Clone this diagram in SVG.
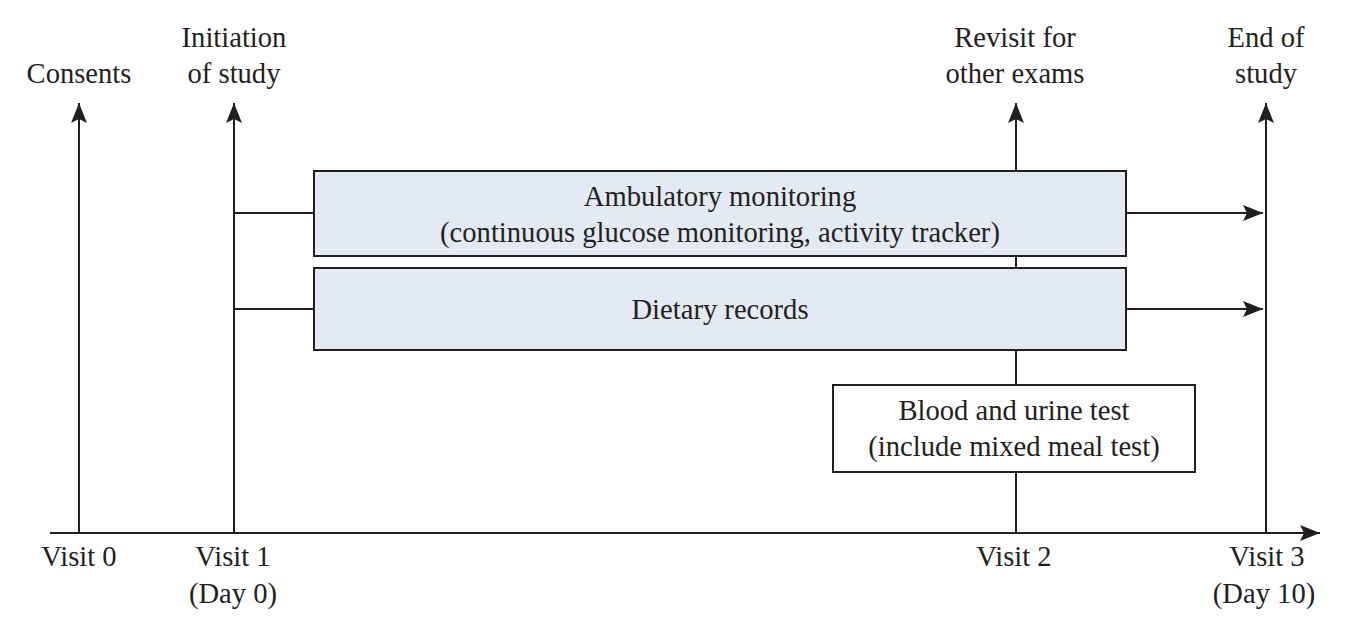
<svg xmlns="http://www.w3.org/2000/svg" width="1347" height="636" viewBox="0 0 1347 636">
<style>
text{font-family:"Liberation Serif","Times New Roman",serif;font-size:28.6px;fill:#231f20;text-anchor:middle}
.ln{stroke:#231f20;stroke-width:2;fill:none}
.bx{stroke:#231f20;stroke-width:2}
.blue{fill:#e3eaf3}
.white{fill:#ffffff}
</style>
<defs>
<marker id="ah" viewBox="0 0 20 16" refX="20" refY="8" markerWidth="20" markerHeight="16" markerUnits="userSpaceOnUse" orient="auto">
<path d="M0,0 L20,8 L0,16 L4,8 Z" fill="#231f20"/>
</marker>
</defs>
<g id="connectors">
<line class="ln" x1="50" y1="533" x2="1320" y2="533" marker-end="url(#ah)"/>
<line class="ln" x1="79" y1="533" x2="79" y2="103" marker-end="url(#ah)"/>
<line class="ln" x1="234" y1="533" x2="234" y2="103" marker-end="url(#ah)"/>
<line class="ln" x1="1016" y1="533" x2="1016" y2="103" marker-end="url(#ah)"/>
<line class="ln" x1="1266" y1="533" x2="1266" y2="103" marker-end="url(#ah)"/>
<line class="ln" x1="234" y1="213" x2="314" y2="213"/>
<line class="ln" x1="1126" y1="213" x2="1263" y2="213" marker-end="url(#ah)"/>
<line class="ln" x1="234" y1="309" x2="314" y2="309"/>
<line class="ln" x1="1126" y1="309" x2="1263" y2="309" marker-end="url(#ah)"/>
</g>
<g id="ambulatory">
<rect class="bx blue" x="314" y="171" width="812" height="85"/>
<text x="720" y="206">Ambulatory monitoring</text>
<text x="720" y="242">(continuous glucose monitoring, activity tracker)</text>
</g>
<g id="dietary">
<rect class="bx blue" x="314" y="268" width="812" height="82"/>
<text x="720" y="319">Dietary records</text>
</g>
<g id="blood">
<rect class="bx white" x="833" y="385" width="362" height="87"/>
<text x="1014" y="420">Blood and urine test</text>
<text x="1014" y="456">(include mixed meal test)</text>
</g>
<g id="consents"><text x="79" y="83">Consents</text></g>
<g id="initiation"><text x="234" y="47">Initiation</text><text x="234" y="83">of study</text></g>
<g id="revisit"><text x="1015" y="47">Revisit for</text><text x="1015" y="83">other exams</text></g>
<g id="end"><text x="1266" y="47">End of</text><text x="1266" y="83">study</text></g>
<g id="visit0"><text x="79" y="566">Visit 0</text></g>
<g id="visit1"><text x="233" y="566">Visit 1</text><text x="233" y="603">(Day 0)</text></g>
<g id="visit2"><text x="1014" y="566">Visit 2</text></g>
<g id="visit3"><text x="1267" y="566">Visit 3</text><text x="1264" y="603">(Day 10)</text></g>
</svg>
